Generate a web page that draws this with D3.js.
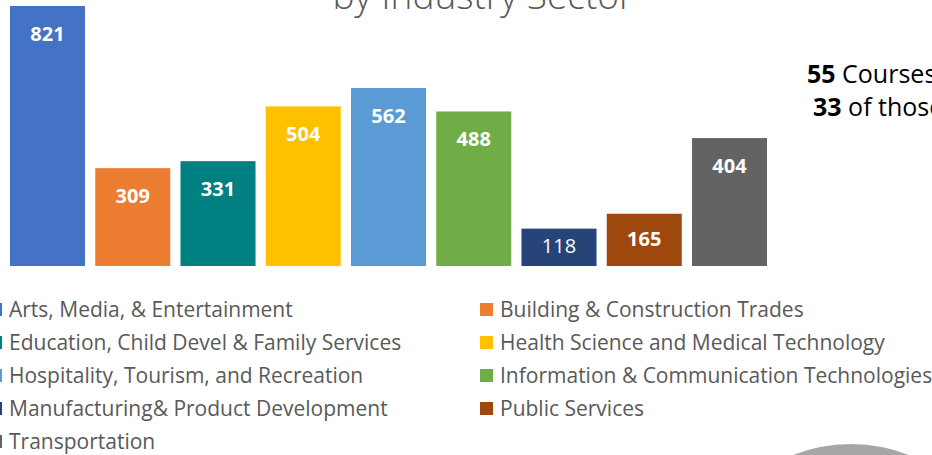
<!DOCTYPE html>
<html>
<head>
<meta charset="utf-8">
<script src="https://cdn.jsdelivr.net/npm/d3@7"></script>
<style>
  html, body { margin: 0; padding: 0; background: #fff; overflow: hidden; }
  svg { display: block; }
</style>
</head>
<body>
<svg id="chart" width="932" height="455"></svg>
<script>
const categories = [
  "Arts, Media, & Entertainment",
  "Building & Construction Trades",
  "Education, Child Devel & Family Services",
  "Health Science and Medical Technology",
  "Hospitality, Tourism, and Recreation",
  "Information & Communication Technologies",
  "Manufacturing& Product Development",
  "Public Services",
  "Transportation"
];
const values = [821, 309, 331, 504, 562, 488, 118, 165, 404];
const colors = ["#4472c4", "#ed7d31", "#008080", "#ffc000", "#5b9bd5", "#70ad47", "#264478", "#9e480e", "#636363"];
const labelBold = [true, true, true, true, true, true, false, true, true];
const titleText = "by Industry Sector";
const sideLines = [["55", " Courses"], ["33", " of those"]];

const svg = d3.select("#chart");
const font = "'Open Sans', 'Noto Sans', sans-serif";

// Title (only the lower line visible, cut by the frame)
svg.append("text")
  .attr("x", 483).attr("y", 9)
  .attr("text-anchor", "middle")
  .attr("font-family", font)
  .attr("font-weight", 300)
  .attr("font-size", 37)
  .attr("fill", "#595959")
  .text(titleText);

const x = d3.scaleBand().domain(categories).range([10, 767]).paddingInner(0.12).paddingOuter(0);
const y = d3.scaleLinear().domain([0, 821]).range([266, 6]);

const bars = svg.append("g");
bars.selectAll("rect").data(categories).join("rect")
  .attr("x", d => x(d))
  .attr("y", (d, i) => y(values[i]))
  .attr("width", x.bandwidth())
  .attr("height", (d, i) => y(0) - y(values[i]))
  .attr("fill", (d, i) => colors[i]);

bars.selectAll("text").data(categories).join("text")
  .attr("x", d => x(d) + x.bandwidth() / 2)
  .attr("y", (d, i) => Math.min(y(values[i]) + 35, (y(values[i]) + y(0)) / 2 + 6))
  .attr("text-anchor", "middle")
  .attr("font-family", font)
  .attr("font-weight", (d, i) => labelBold[i] ? 700 : 400)
  .attr("font-size", 20)
  .attr("fill", "#ffffff")
  .text((d, i) => values[i]);

// Legend: two columns, row-major
const legend = svg.append("g");
const colX = [-11, 480];
const rowY0 = 317, rowStep = 33;
categories.forEach((c, i) => {
  const col = i % 2, row = Math.floor(i / 2);
  const gx = colX[col], gy = rowY0 + row * rowStep;
  legend.append("rect")
    .attr("x", gx).attr("y", gy - 14)
    .attr("width", 13).attr("height", 13)
    .attr("fill", colors[i]);
  legend.append("text")
    .attr("x", gx + 20).attr("y", gy)
    .attr("font-family", font)
    .attr("font-size", 21)
    .attr("fill", "#595959")
    .text(c);
});

// Side annotation (clipped by frame)
const side = svg.append("g");
[[807, 83], [813, 116]].forEach((p, i) => {
  const t = side.append("text")
    .attr("x", p[0]).attr("y", p[1])
    .attr("font-family", font)
    .attr("font-size", 25)
    .attr("fill", "#000000");
  t.append("tspan").attr("font-weight", 700).text(sideLines[i][0]);
  t.append("tspan").attr("font-weight", 400).text(sideLines[i][1]);
});

// Gray circle at bottom right (partially visible)
svg.append("circle")
  .attr("cx", 851).attr("cy", 602).attr("r", 158)
  .attr("fill", "#a6a6a6");
</script>
</body>
</html>
